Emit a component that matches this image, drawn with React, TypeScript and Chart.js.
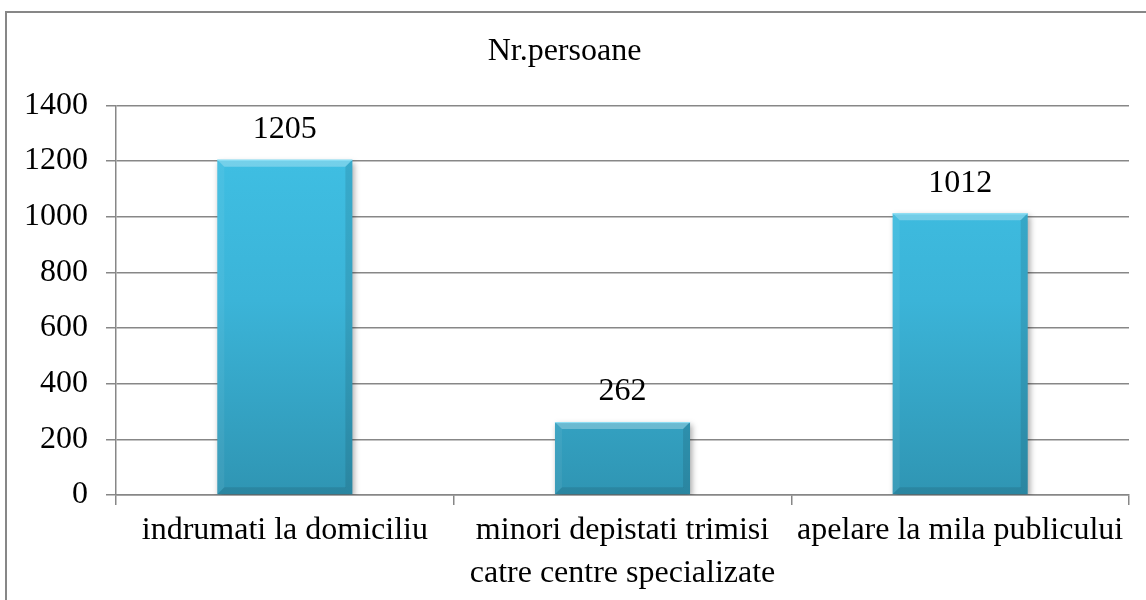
import React, { useEffect, useRef } from "react";
import { Chart, registerables } from "chart.js";

Chart.register(...registerables);

const title = "Nr.persoane";
const categories: (string | string[])[] = [
  "indrumati la domiciliu",
  ["minori depistati trimisi", "catre centre specializate"],
  "apelare la mila publicului",
];
const values = [1205, 262, 1012];
const yMin = 0;
const yMax = 1400;
const yStep = 200;

const FONT = '"Liberation Serif", "Times New Roman", serif';
const FS = 32;
const GRID = "#878787";

const bevelPlugin = {
  id: "bevel",
  beforeDatasetDraw(chart: any) {
    const ctx = chart.ctx;
    ctx.save();
    ctx.shadowColor = "rgba(0,0,0,0.35)";
    ctx.shadowBlur = 6;
    ctx.shadowOffsetX = 2;
    ctx.shadowOffsetY = 3;
  },
  afterDatasetDraw(chart: any) {
    chart.ctx.restore();
  },
  afterDatasetsDraw(chart: any) {
    const ctx = chart.ctx;
    const meta = chart.getDatasetMeta(0);
    meta.data.forEach((bar: any, i: number) => {
      const { x, y, base, width } = bar.getProps(["x", "y", "base", "width"], true);
      const l = x - width / 2;
      const r = x + width / 2;
      const t = Math.min(y, base);
      const b = Math.max(y, base);
      const s = 7;
      const poly = (pts: number[][], fill: string) => {
        ctx.beginPath();
        ctx.moveTo(pts[0][0], pts[0][1]);
        for (let k = 1; k < pts.length; k++) ctx.lineTo(pts[k][0], pts[k][1]);
        ctx.closePath();
        ctx.fillStyle = fill;
        ctx.fill();
      };
      ctx.save();
      poly([[l, t], [r, t], [r - s, t + s], [l + s, t + s]], "rgba(255,255,255,0.28)");
      poly([[l, t], [l + s, t + s], [l + s, b - s], [l, b]], "rgba(255,255,255,0.06)");
      poly([[r, t], [r - s, t + s], [r - s, b - s], [r, b]], "rgba(0,0,0,0.10)");
      poly([[l, b], [l + s, b - s], [r - s, b - s], [r, b]], "rgba(0,0,0,0.10)");
      ctx.strokeStyle = "rgba(150,230,250,0.9)";
      ctx.lineWidth = 1;
      ctx.beginPath();
      ctx.moveTo(l, t + 0.5);
      ctx.lineTo(r, t + 0.5);
      ctx.stroke();
      ctx.fillStyle = "#000";
      ctx.font = `${FS}px ${FONT}`;
      ctx.textAlign = "center";
      ctx.textBaseline = "middle";
      ctx.fillText(String(values[i]), x, t - 30);
      ctx.restore();
    });
  },
};

export default function App() {
  const ref = useRef<HTMLCanvasElement>(null);
  useEffect(() => {
    if (!ref.current) return;
    const chart = new Chart(ref.current, {
      type: "bar",
      data: {
        labels: categories,
        datasets: [
          {
            label: title,
            data: values,
            backgroundColor: (c: any) => {
              const area = c.chart.chartArea;
              if (!area) return "#38acd0";
              const g = c.chart.ctx.createLinearGradient(0, area.top, 0, area.bottom);
              g.addColorStop(0, "#40c2e6");
              g.addColorStop(0.5, "#3bb4d8");
              g.addColorStop(1, "#2f95b3");
              return g;
            },
            borderWidth: 0,
            categoryPercentage: 1,
            barPercentage: 0.4,
          },
        ],
      },
      options: {
        animation: false,
        responsive: false,
        maintainAspectRatio: false,
        layout: { padding: { left: 0, right: 17, top: 0, bottom: 0 } },
        plugins: {
          legend: { display: false },
          tooltip: { enabled: false },
          title: {
            display: true,
            text: title,
            color: "#000",
            font: { family: FONT, size: FS, weight: "normal", lineHeight: 1.2 },
            padding: { top: 32, bottom: 35 },
          },
        },
        scales: {
          x: {
            grid: {
              offset: true,
              drawOnChartArea: false,
              drawTicks: true,
              tickLength: 10,
              color: GRID,
              lineWidth: 1.5,
            },
            border: { color: GRID, width: 1.5 },
            ticks: {
              color: "#000",
              font: { family: FONT, size: FS, lineHeight: 1.35 },
              padding: 4,
              maxRotation: 0,
              minRotation: 0,
              autoSkip: false,
            },
            afterFit: (s: any) => {
              s.height = 105;
            },
          },
          y: {
            min: yMin,
            max: yMax,
            grid: {
              color: GRID,
              lineWidth: 1.5,
              drawTicks: true,
              tickLength: 10,
            },
            border: { color: GRID, width: 1.5 },
            ticks: {
              stepSize: yStep,
              color: "#000",
              font: { family: FONT, size: FS },
              padding: 18,
              callback: (v: any) => String(v),
            },
            afterFit: (s: any) => {
              s.width = 116;
            },
          },
        },
      },
      plugins: [bevelPlugin],
    });
    return () => chart.destroy();
  }, []);

  return (
    <div
      style={{
        position: "fixed",
        left: 0,
        top: 0,
        width: 1146,
        height: 600,
        overflow: "hidden",
        background: "#fff",
      }}
    >
      <div
        style={{
          position: "absolute",
          left: 5,
          top: 11,
          width: 1300,
          height: 800,
          borderLeft: `2px solid ${GRID}`,
          borderTop: `2px solid ${GRID}`,
        }}
      />
      <canvas
        ref={ref}
        width={1146}
        height={600}
        style={{ position: "absolute", left: 0, top: 0, width: 1146, height: 600 }}
      />
    </div>
  );
}
